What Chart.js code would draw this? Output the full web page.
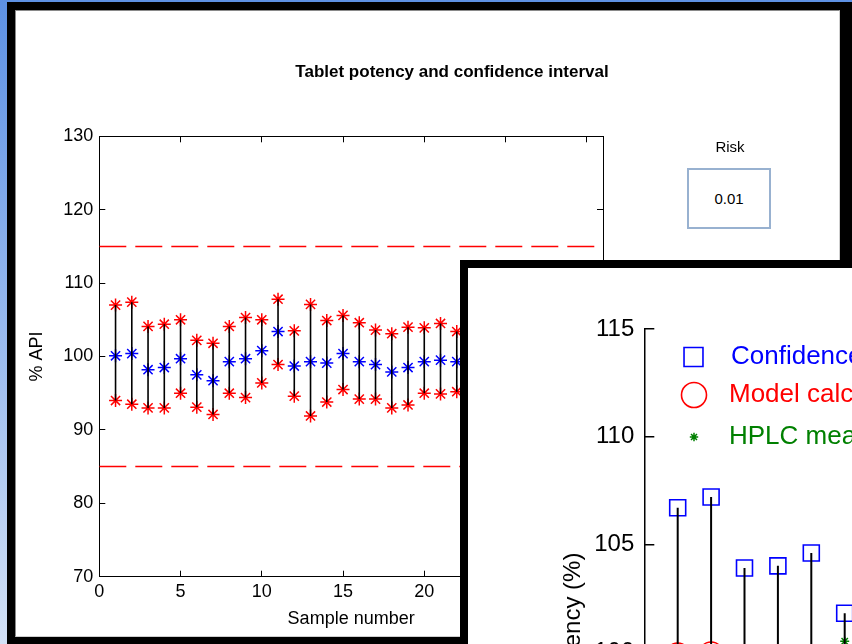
<!DOCTYPE html>
<html>
<head>
<meta charset="utf-8">
<script src="https://cdn.jsdelivr.net/npm/chart.js@4.4.1/dist/chart.umd.min.js"></script>
<style>
html,body{margin:0;padding:0;width:852px;height:644px;overflow:hidden;}
body{position:relative;background:linear-gradient(to bottom,#5d91e4 0%,#9cbcef 55%,#d3e1f6 100%);font-family:"Liberation Sans",Arial,Helvetica,sans-serif;}
#win1{position:absolute;left:7px;top:2px;width:845px;height:642px;box-sizing:border-box;border:8px solid #000;border-right-width:12px;border-bottom-width:7px;background:#fff;}
#win1 .inner{position:absolute;left:0;top:0;right:0;bottom:0;border:1px solid #8a8a8a;border-right-color:#cfcfcf;border-bottom-color:#cfcfcf;}
#c1{position:absolute;left:20px;top:0;}
#risk{position:absolute;left:690px;top:138px;width:80px;line-height:17px;text-align:center;font-size:15px;color:#000;}
#riskbox{position:absolute;left:687px;top:168px;width:84px;height:61px;box-sizing:border-box;border:2px solid #98b1d0;display:flex;align-items:center;justify-content:center;font-size:15px;color:#000;background:#fff;}
#win2{position:absolute;left:460px;top:260px;width:420px;height:420px;box-sizing:border-box;border:8px solid #000;background:#fff;}
#c2{position:absolute;left:468px;top:268px;}
</style>
</head>
<body>
<div id="win1"><div class="inner"></div></div>
<canvas id="c1" width="864" height="644" style="width:864px;height:644px;"></canvas>
<div id="risk">Risk</div>
<div id="riskbox">0.01</div>
<div id="win2"></div>
<canvas id="c2" width="1300" height="767" style="width:1300px;height:767px;"></canvas>
<script>
// ---------- data: left window (Tablet potency and confidence interval) ----------
const samples = [1,2,3,4,5,6,7,8,9,10,11,12,13,14,15,16,17,18,19,20,21,22];
const ciUpper = [107.0,107.4,104.1,104.4,105.0,102.2,101.8,104.1,105.3,105.0,107.8,103.5,107.1,104.9,105.6,104.6,103.6,103.1,104.0,103.9,104.5,103.4];
const ciMean  = [100.1,100.4,98.2,98.5,99.7,97.5,96.7,99.3,99.7,100.8,103.4,98.7,99.3,99.1,100.4,99.3,98.9,97.9,98.5,99.3,99.5,99.3];
const ciLower = [94.0,93.5,93.0,93.0,95.0,93.1,92.1,95.0,94.4,96.4,98.9,94.6,91.9,93.8,95.5,94.2,94.2,93.0,93.4,95.0,94.9,95.2];
const specLimits = [115, 85];
const specRange = [0, 31];
const riskValue = '0.01';

// ---------- data: front window (zoomed potency plot) ----------
const samples2 = [1,2,3,4,5,6];
const confUpper2 = [106.7,107.2,103.9,104.0,104.6,101.8];
const confLower2 = [94.0,93.5,93.0,93.0,95.0,93.1];
const model2 = [99.85,99.9,98.2,98.5,99.7,97.5];
const hplc2 = [null,null,null,null,null,100.5];
const legendLabels2 = ['Confidence interval','Model calculated','HPLC measured'];

document.getElementById('riskbox').textContent = riskValue;

const FONT = '"Liberation Sans", Arial, Helvetica, sans-serif';
Chart.defaults.font.family = FONT;
Chart.defaults.color = '#000';

function pts(xs, ys){ return xs.map((x,i)=>({x:x, y:ys[i]})); }
function stems(xs, lo, hi){
  const out = [];
  xs.forEach((x,i)=>{ out.push({x:x,y:lo[i]},{x:x,y:hi[i]},{x:x,y:null}); });
  return out;
}

// ---------- chart 1 ----------
new Chart(document.getElementById('c1'), {
  type: 'scatter',
  data: { datasets: [
    {label:'Interval', data: stems(samples, ciLower, ciUpper), showLine:true, borderColor:'#000', borderWidth:1.6, pointRadius:0, order:0},
    {label:'Upper limit', data: pts(samples, ciUpper), pointStyle:'star', pointRadius:6.5, borderColor:'#ff0000', borderWidth:1.5, order:1},
    {label:'Lower limit', data: pts(samples, ciLower), pointStyle:'star', pointRadius:6.5, borderColor:'#ff0000', borderWidth:1.5, order:1},
    {label:'Mean', data: pts(samples, ciMean), pointStyle:'star', pointRadius:6.5, borderColor:'#0000ff', borderWidth:1.5, order:1},
    {label:'Upper spec', data: specRange.map(x=>({x:x,y:specLimits[0]})), showLine:true, borderColor:'#ff0000', borderWidth:1.5, borderDash:[27,9], pointRadius:0, order:2},
    {label:'Lower spec', data: specRange.map(x=>({x:x,y:specLimits[1]})), showLine:true, borderColor:'#ff0000', borderWidth:1.5, borderDash:[27,9], pointRadius:0, order:2}
  ]},
  options: {
    responsive:false, animation:false, events:[],
    layout:{padding:0},
    plugins:{
      legend:{display:false}, tooltip:{enabled:false},
      title:{display:true, text:'Tablet potency and confidence interval', color:'#000', font:{size:17, weight:'bold'}, padding:{top:61.8, bottom:54.1}}
    },
    scales:{
      x:{type:'linear', position:'bottom', min:0, max:31,
         ticks:{stepSize:5, includeBounds:false, font:{size:18}, color:'#000', padding:11, maxRotation:0, autoSkip:false},
         grid:{drawOnChartArea:false, drawTicks:true, tickLength:-6, color:'#000', lineWidth:1},
         border:{display:true, color:'#000', width:1},
         title:{display:true, text:'Sample number', color:'#000', font:{size:18}, padding:{top:0, bottom:14}},
         afterFit(s){ s.height = 67.3; }},
      y:{type:'linear', position:'left', min:70, max:130,
         ticks:{stepSize:10, font:{size:18}, color:'#000', padding:12},
         grid:{drawOnChartArea:false, drawTicks:true, tickLength:-6, color:'#000', lineWidth:1},
         border:{display:true, color:'#000', width:1},
         title:{display:true, text:'% API', color:'#000', font:{size:18}, padding:{top:6.7, bottom:0}},
         afterFit(s){ s.width = 79.3; }},
      x2:{type:'linear', position:'top', min:0, max:31,
         ticks:{display:false, stepSize:5, includeBounds:false},
         grid:{drawOnChartArea:false, drawTicks:true, tickLength:-6, color:'#000', lineWidth:1},
         border:{display:true, color:'#000', width:1},
         afterFit(s){ s.height = 0; }},
      y2:{type:'linear', position:'right', min:70, max:130,
         ticks:{display:false, stepSize:10},
         grid:{drawOnChartArea:false, drawTicks:true, tickLength:-6, color:'#000', lineWidth:1},
         border:{display:true, color:'#000', width:1},
         afterFit(s){ s.width = 281; }}
    }
  }
});

// ---------- chart 2 legend plugin (legend drawn inside the axes, like MATLAB) ----------
function drawMarker(ctx, style, x, y, r){
  ctx.beginPath();
  if (style === 'rect') { const s = r*Math.SQRT1_2; ctx.rect(x-s, y-s, 2*s, 2*s); }
  else if (style === 'circle') { ctx.arc(x, y, r, 0, Math.PI*2); }
  else {
    for (let k=0;k<4;k++){ const a = k*Math.PI/4; const dx=Math.cos(a)*r, dy=Math.sin(a)*r; ctx.moveTo(x-dx,y-dy); ctx.lineTo(x+dx,y+dy); }
  }
  ctx.stroke();
}
const insideLegend = {
  id:'insideLegend',
  afterDraw(chart, args, opts){
    const ctx = chart.ctx;
    ctx.save();
    opts.items.forEach(it=>{
      const ds = chart.data.datasets[it.dataset];
      ctx.strokeStyle = ds.borderColor; ctx.lineWidth = ds.borderWidth;
      drawMarker(ctx, ds.pointStyle, it.x, it.y, it.r);
      ctx.fillStyle = ds.borderColor;
      ctx.font = opts.fontSize + 'px ' + FONT;
      ctx.textBaseline = 'middle'; ctx.textAlign = 'left';
      ctx.fillText(ds.label, it.tx, it.y);
    });
    ctx.restore();
  }
};

// ---------- chart 2 ----------
new Chart(document.getElementById('c2'), {
  type:'scatter',
  data:{ datasets:[
    {label:'Interval', data: stems(samples2, confLower2, confUpper2), showLine:true, borderColor:'#000', borderWidth:2, pointRadius:0, order:0},
    {label:legendLabels2[0], data: pts(samples2, confUpper2), pointStyle:'rect', pointRadius:11.3, borderColor:'#0000ff', backgroundColor:'rgba(0,0,0,0)', borderWidth:1.6, order:1},
    {label:legendLabels2[1], data: pts(samples2, model2), pointStyle:'circle', pointRadius:12.2, borderColor:'#ff0000', backgroundColor:'rgba(0,0,0,0)', borderWidth:1.6, order:1},
    {label:legendLabels2[2], data: pts(samples2, hplc2), pointStyle:'star', pointRadius:4.5, borderColor:'#008000', borderWidth:1.5, order:1}
  ]},
  options:{
    responsive:false, animation:false, events:[],
    layout:{padding:{top:61, right:88.3, left:0, bottom:0}},
    plugins:{
      legend:{display:false}, tooltip:{enabled:false},
      insideLegend:{fontSize:26, items:[
        {dataset:1, x:225.5, y:89, r:13.4, tx:263},
        {dataset:2, x:226, y:127, r:12.5, tx:261},
        {dataset:3, x:226, y:169, r:4.2, tx:261}
      ]}
    },
    scales:{
      x:{type:'linear', position:'bottom', min:0, max:31,
         ticks:{stepSize:5, includeBounds:false, font:{size:24}, color:'#000', padding:20},
         grid:{drawOnChartArea:false, drawTicks:true, tickLength:-10, color:'#000', lineWidth:1.5},
         border:{display:true, color:'#000', width:1.5},
         afterFit(s){ s.height = 60; }},
      y:{type:'linear', position:'left', min:85, max:115,
         ticks:{stepSize:5, font:{size:24}, color:'#000', padding:20},
         grid:{drawOnChartArea:false, drawTicks:true, tickLength:-10, color:'#000', lineWidth:1.5},
         border:{display:true, color:'#000', width:1.5},
         title:{display:true, text:'Tablet potency (%)', color:'#000', font:{size:24}, padding:{top:90.6, bottom:0}},
         afterFit(s){ s.width = 176.3; }}
    }
  },
  plugins:[insideLegend]
});
</script>
</body>
</html>
